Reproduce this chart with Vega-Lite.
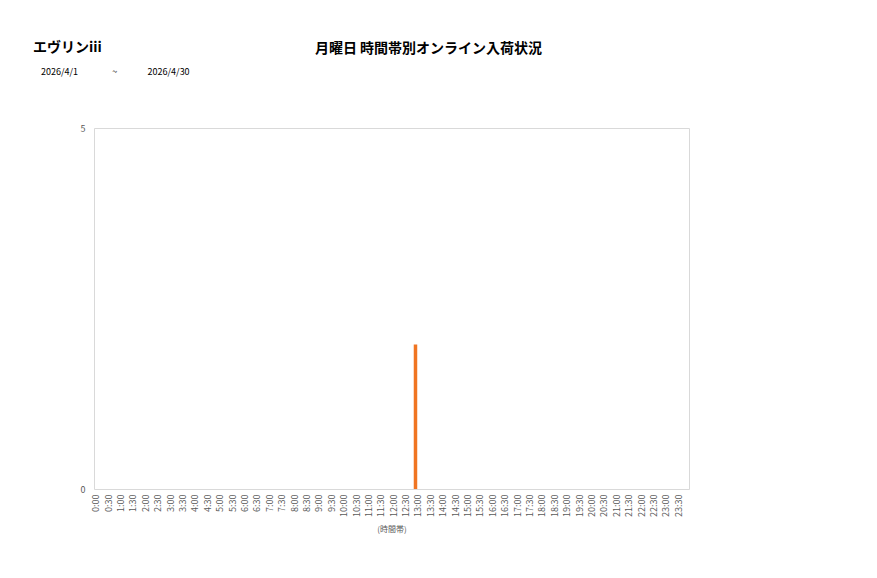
{
  "$schema": "https://vega.github.io/schema/vega-lite/v6.json",
  "autosize": "none",
  "width": 595,
  "height": 361,
  "padding": {"left": 94, "top": 128, "right": 188, "bottom": 89},
  "background": "white",
  "config": {
    "font": "Noto Sans CJK JP",
    "view": {"stroke": "#d9d9d9", "strokeWidth": 1}
  },
  "title": {
    "text": "エヴリンiii",
    "subtitle": "\u200b\u00a0\u00a0\u00a0\u00a02026/4/1\u00a0\u00a0\u00a0\u00a0\u00a0\u00a0\u00a0\u00a0\u00a0\u00a0\u00a0\u00a0\u00a0\u00a0\u00a0\u00a0\u00a0~\u00a0\u00a0\u00a0\u00a0\u00a0\u00a0\u00a0\u00a0\u00a0\u00a0\u00a0\u00a0\u00a0\u00a0\u00a02026/4/30",
    "anchor": "start",
    "frame": "group",
    "dx": -61,
    "offset": -36,
    "font": "Noto Sans CJK JP",
    "fontSize": 14,
    "fontWeight": "bold",
    "color": "#000000",
    "subtitleFont": "Noto Sans CJK JP",
    "subtitleFontSize": 9,
    "subtitleColor": "#000000",
    "subtitlePadding": 13
  },
  "data": {
    "values": [
      {"time": "0:00", "count": 0}, {"time": "0:30", "count": 0},
      {"time": "1:00", "count": 0}, {"time": "1:30", "count": 0},
      {"time": "2:00", "count": 0}, {"time": "2:30", "count": 0},
      {"time": "3:00", "count": 0}, {"time": "3:30", "count": 0},
      {"time": "4:00", "count": 0}, {"time": "4:30", "count": 0},
      {"time": "5:00", "count": 0}, {"time": "5:30", "count": 0},
      {"time": "6:00", "count": 0}, {"time": "6:30", "count": 0},
      {"time": "7:00", "count": 0}, {"time": "7:30", "count": 0},
      {"time": "8:00", "count": 0}, {"time": "8:30", "count": 0},
      {"time": "9:00", "count": 0}, {"time": "9:30", "count": 0},
      {"time": "10:00", "count": 0}, {"time": "10:30", "count": 0},
      {"time": "11:00", "count": 0}, {"time": "11:30", "count": 0},
      {"time": "12:00", "count": 0}, {"time": "12:30", "count": 0},
      {"time": "13:00", "count": 2}, {"time": "13:30", "count": 0},
      {"time": "14:00", "count": 0}, {"time": "14:30", "count": 0},
      {"time": "15:00", "count": 0}, {"time": "15:30", "count": 0},
      {"time": "16:00", "count": 0}, {"time": "16:30", "count": 0},
      {"time": "17:00", "count": 0}, {"time": "17:30", "count": 0},
      {"time": "18:00", "count": 0}, {"time": "18:30", "count": 0},
      {"time": "19:00", "count": 0}, {"time": "19:30", "count": 0},
      {"time": "20:00", "count": 0}, {"time": "20:30", "count": 0},
      {"time": "21:00", "count": 0}, {"time": "21:30", "count": 0},
      {"time": "22:00", "count": 0}, {"time": "22:30", "count": 0},
      {"time": "23:00", "count": 0}, {"time": "23:30", "count": 0}
    ]
  },
  "mark": {"type": "bar", "width": 3.5, "xOffset": -7, "color": "#F07522"},
  "encoding": {
    "x": {
      "field": "time",
      "type": "ordinal",
      "sort": null,
      "scale": {"paddingInner": 0, "paddingOuter": 0},
      "axis": {
        "title": "(時間帯)",
        "titleFontSize": 8,
        "titleFontWeight": "normal",
        "titleColor": "#595959",
        "titlePadding": 9,
        "labelAngle": -90,
        "labelFontSize": 9,
        "labelColor": "#595959",
        "labelPadding": 5,
        "labelOffset": -4,
        "ticks": false,
        "domain": false,
        "grid": false
      }
    },
    "y": {
      "field": "count",
      "type": "quantitative",
      "scale": {"domain": [0, 5], "nice": false},
      "axis": {
        "values": [0, 5],
        "title": "月曜日 時間帯別オンライン入荷状況",
        "titleAngle": 0,
        "titleAlign": "center",
        "titleBaseline": "alphabetic",
        "titleX": 334,
        "titleY": -76,
        "titleFontSize": 14,
        "titleFontWeight": "bold",
        "titleColor": "#000000",
        "labelFontSize": 9,
        "labelColor": "#595959",
        "labelPadding": 9,
        "ticks": false,
        "domain": false,
        "grid": false
      }
    }
  }
}
